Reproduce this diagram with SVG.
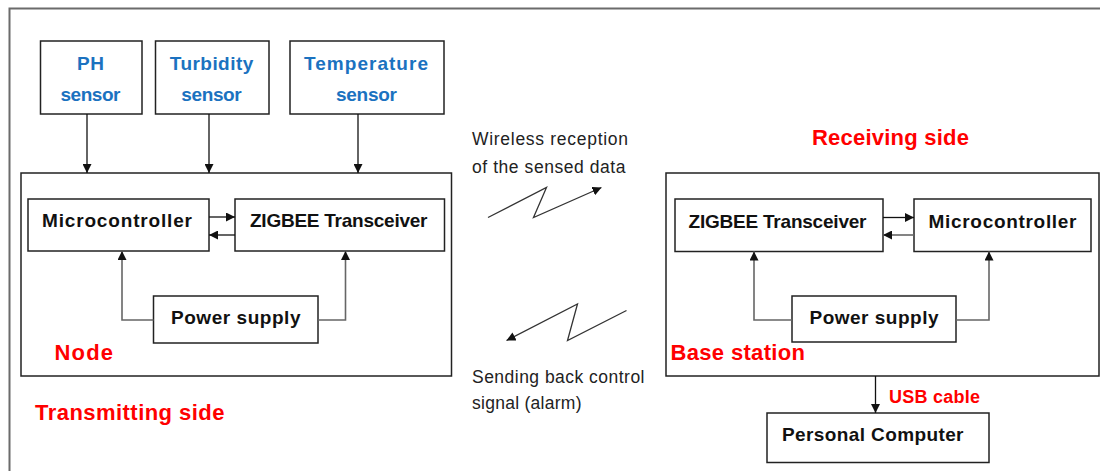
<svg xmlns="http://www.w3.org/2000/svg" width="1100" height="471" viewBox="0 0 1100 471">
<style>
.box{fill:#fff;stroke:#222;stroke-width:1.5}
.frame{fill:none;stroke:#6b6b6b;stroke-width:2}
.lbl{font-family:"Liberation Sans",Arial,sans-serif;font-weight:bold;font-size:19px;fill:#111}
.blue{font-family:"Liberation Sans",Arial,sans-serif;font-weight:bold;font-size:19px;fill:#1b72c0}
.red{font-family:"Liberation Sans",Arial,sans-serif;font-weight:bold;font-size:22px;fill:#ff0000}
.reds{font-family:"Liberation Sans",Arial,sans-serif;font-weight:bold;font-size:18px;fill:#ff0000}
.note{font-family:"Liberation Sans",Arial,sans-serif;font-size:17.5px;fill:#222}
.c{fill:none;stroke:#111;stroke-width:1.3}
.g{fill:none;stroke:#666;stroke-width:1.6}
.z{fill:none;stroke:#333;stroke-width:1.3}
</style>
<defs>
<marker id="ah" viewBox="0 0 10 10" refX="10" refY="5" markerWidth="9" markerHeight="9" markerUnits="userSpaceOnUse" orient="auto">
<path d="M0,0 L10,5 L0,10 z" fill="#111"/>
</marker>
</defs>
<rect width="1100" height="471" fill="#fff"/>
<path class="frame" d="M9.5,471 V8.5 H1100"/>

<g id="ph-sensor">
<rect class="box" x="40.5" y="41" width="101.5" height="73"/>
<text class="blue" x="90.5" y="70" text-anchor="middle" textLength="27" lengthAdjust="spacing">PH</text>
<text class="blue" x="90.5" y="101" text-anchor="middle" textLength="60" lengthAdjust="spacing">sensor</text>
</g>
<g id="turbidity-sensor">
<rect class="box" x="155.5" y="41" width="113.5" height="73"/>
<text class="blue" x="211.5" y="70" text-anchor="middle" textLength="83.5" lengthAdjust="spacing">Turbidity</text>
<text class="blue" x="211.5" y="101" text-anchor="middle" textLength="60.5" lengthAdjust="spacing">sensor</text>
</g>
<g id="temperature-sensor">
<rect class="box" x="290" y="41" width="154" height="73"/>
<text class="blue" x="366" y="70" text-anchor="middle" textLength="124" lengthAdjust="spacing">Temperature</text>
<text class="blue" x="366.5" y="101" text-anchor="middle" textLength="61" lengthAdjust="spacing">sensor</text>
</g>

<g id="node">
<rect class="box" x="21" y="173" width="430.5" height="203"/>
<text class="red" x="54.5" y="359.5" textLength="58.5" lengthAdjust="spacing">Node</text>
</g>
<g id="node-microcontroller">
<rect class="box" x="28" y="199" width="181" height="52"/>
<text class="lbl" x="42" y="227" textLength="150" lengthAdjust="spacing">Microcontroller</text>
</g>
<g id="node-zigbee">
<rect class="box" x="235" y="199" width="209.5" height="52"/>
<text class="lbl" x="250" y="227" textLength="177.5" lengthAdjust="spacing">ZIGBEE Transceiver</text>
</g>
<g id="node-power">
<rect class="box" x="153.5" y="296" width="164.5" height="47"/>
<text class="lbl" x="171" y="323.5" textLength="129.5" lengthAdjust="spacing">Power supply</text>
</g>
<g id="transmitting-label">
<text class="red" x="35" y="420" textLength="189.5" lengthAdjust="spacing">Transmitting side</text>
</g>

<g id="wireless-labels">
<text class="note" x="472" y="145" textLength="156" lengthAdjust="spacing">Wireless reception</text>
<text class="note" x="472" y="173" textLength="153.5" lengthAdjust="spacing">of the sensed data</text>
<text class="note" x="472" y="383" textLength="172.5" lengthAdjust="spacing">Sending back control</text>
<text class="note" x="472" y="409" textLength="109.5" lengthAdjust="spacing">signal (alarm)</text>
</g>

<g id="receiving-label">
<text class="red" x="812" y="145" textLength="157" lengthAdjust="spacing">Receiving side</text>
</g>
<g id="base-station">
<rect class="box" x="666" y="173" width="433" height="203"/>
<text class="red" x="670.5" y="359.5" textLength="134.5" lengthAdjust="spacing">Base station</text>
</g>
<g id="base-zigbee">
<rect class="box" x="675" y="199" width="208" height="52.5"/>
<text class="lbl" x="688.5" y="227.5" textLength="178" lengthAdjust="spacing">ZIGBEE Transceiver</text>
</g>
<g id="base-microcontroller">
<rect class="box" x="914" y="199" width="177" height="52.5"/>
<text class="lbl" x="928.5" y="227.5" textLength="148" lengthAdjust="spacing">Microcontroller</text>
</g>
<g id="base-power">
<rect class="box" x="792" y="296" width="164" height="46"/>
<text class="lbl" x="809.5" y="324" textLength="129" lengthAdjust="spacing">Power supply</text>
</g>
<g id="usb-label">
<text class="reds" x="889" y="402.5" textLength="91" lengthAdjust="spacing">USB cable</text>
</g>
<g id="personal-computer">
<rect class="box" x="767" y="413" width="222" height="49.5"/>
<text class="lbl" x="782" y="441" textLength="181.5" lengthAdjust="spacing">Personal Computer</text>
</g>

<g id="connectors">
<line class="c" x1="87" y1="114" x2="87" y2="173" marker-end="url(#ah)"/>
<line class="c" x1="209" y1="114" x2="209" y2="173" marker-end="url(#ah)"/>
<line class="c" x1="358" y1="114" x2="358" y2="173" marker-end="url(#ah)"/>
<line class="c" x1="209" y1="217" x2="235" y2="217" marker-end="url(#ah)"/>
<line class="c" x1="235" y1="235" x2="209" y2="235" marker-end="url(#ah)"/>
<polyline class="g" points="153.5,320 122,320 122,251" marker-end="url(#ah)"/>
<polyline class="g" points="318,320 345.5,320 345.5,251" marker-end="url(#ah)"/>
<polyline class="z" points="488,217.5 546.5,187.5 533.5,217.5 601.5,187.5" marker-end="url(#ah)"/>
<polyline class="z" points="626.5,310.5 567.5,340.5 577.5,304 506.5,340.5" marker-end="url(#ah)"/>
<line class="c" x1="883" y1="217.5" x2="914" y2="217.5" marker-end="url(#ah)"/>
<line class="g" x1="914" y1="235" x2="883" y2="235" marker-end="url(#ah)"/>
<polyline class="g" points="792,320 754,320 754,251.5" marker-end="url(#ah)"/>
<polyline class="g" points="956,320 989,320 989,251.5" marker-end="url(#ah)"/>
<line class="c" x1="875.5" y1="376" x2="875.5" y2="413" marker-end="url(#ah)"/>
</g>
</svg>
